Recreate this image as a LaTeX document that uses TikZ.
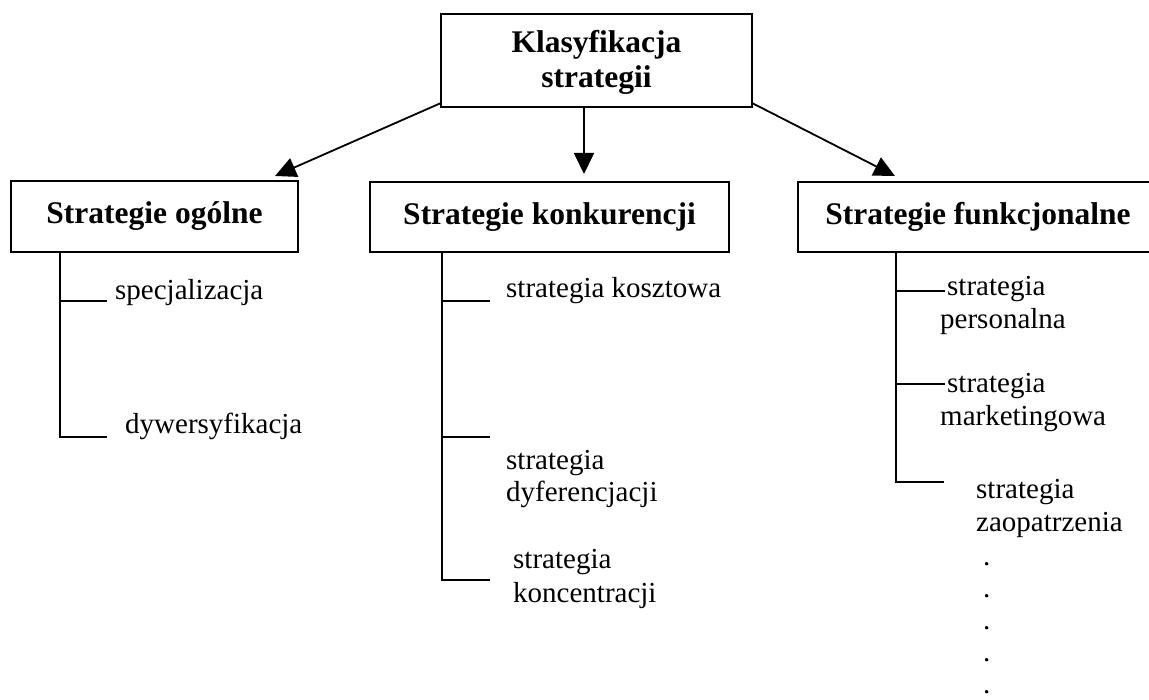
\documentclass[tikz,border=0pt]{standalone}
\usepackage{fontspec}
\setmainfont{Liberation Serif}
\usetikzlibrary{arrows.meta}
\begin{document}
\begin{tikzpicture}[x=1pt,y=-1pt,
  box/.style={draw=black, line width=1.8pt, inner sep=0pt, font=\fontsize{31.5}{35}\selectfont\bfseries, align=center},
  item/.style={inner sep=0pt, anchor=base west, font=\fontsize{29}{33.4}\selectfont},
  tree/.style={draw=black, line width=1.8pt},
  conn/.style={draw=black, line width=1.8pt, -{Triangle[length=21pt,width=20pt]}}]
\useasboundingbox (0,0) rectangle (1149,700);
% boxes
\node[box, minimum width=311pt, minimum height=93pt] (top) at (596.5,60.5) {};
\node[inner sep=0pt, font=\fontsize{31.5}{35}\selectfont\bfseries, align=center, anchor=north] (toptext) at (596.5,30) {Klasyfikacja\\strategii};
\node[box, minimum width=287pt, minimum height=71pt] (b1) at (154.5,216.5) {Strategie ogólne};
\node[box, minimum width=359pt, minimum height=70pt] (b2) at (549.5,217) {Strategie konkurencji};
\node[box, minimum width=360pt, minimum height=70pt] (b3) at (978,217) {Strategie funkcjonalne};
% arrows
\coordinate (a1s) at (441,103);
\coordinate (a1e) at (275,176);
\coordinate (a2s) at (584,107);
\coordinate (a2e) at (584,174);
\coordinate (a3s) at (752,103);
\coordinate (a3e) at (895,176);
\draw[conn] (a1s) -- (a1e);
\draw[conn] (top.south -| a2s) -- (a2e);
\draw[conn] (a3s) -- (a3e);
% tree 1
\coordinate (v1) at (60,437);
\coordinate (e11) at (107,301);
\coordinate (e12) at (107,437);
\draw[tree] (b1.south -| v1) -- (v1) -- (e12);
\draw[tree] (v1 |- e11) -- (e11);
\node[item] (spec) at (115,300) {specjalizacja};
\node[item] (dyw) at (125,434) {dywersyfikacja};
% tree 2
\coordinate (v2) at (442,580);
\coordinate (e21) at (490,301);
\coordinate (e22) at (490,437);
\coordinate (e23) at (490,580);
\draw[tree] (b2.south -| v2) -- (v2) -- (e23);
\draw[tree] (v2 |- e21) -- (e21);
\draw[tree] (v2 |- e22) -- (e22);
\node[item] (kosz) at (506,298) {strategia kosztowa};
\node[item] (dyf1) at (506,469) {strategia};
\node[item] (dyf2) at (506,501) {dyferencjacji};
\node[item] (kon1) at (513,568) {strategia};
\node[item] (kon2) at (513,602) {koncentracji};
% tree 3
\coordinate (v3) at (896,482);
\coordinate (e31) at (945,291);
\coordinate (e32) at (945,384);
\coordinate (e33) at (944,482);
\draw[tree] (b3.south -| v3) -- (v3) -- (e33);
\draw[tree] (v3 |- e31) -- (e31);
\draw[tree] (v3 |- e32) -- (e32);
\node[item] (per1) at (947,296) {strategia};
\node[item] (per2) at (940,329) {personalna};
\node[item] (mar1) at (947,393) {strategia};
\node[item] (mar2) at (940,426) {marketingowa};
\node[item] (zao1) at (976,498) {strategia};
\node[item] (zao2) at (976,531) {zaopatrzenia};
\node[item] (d1) at (983,565) {.};
\node[item] (d2) at (983,597) {.};
\node[item] (d3) at (983,629) {.};
\node[item] (d4) at (983,661) {.};
\node[item] (d5) at (983,693) {.};
\end{tikzpicture}
\end{document}
